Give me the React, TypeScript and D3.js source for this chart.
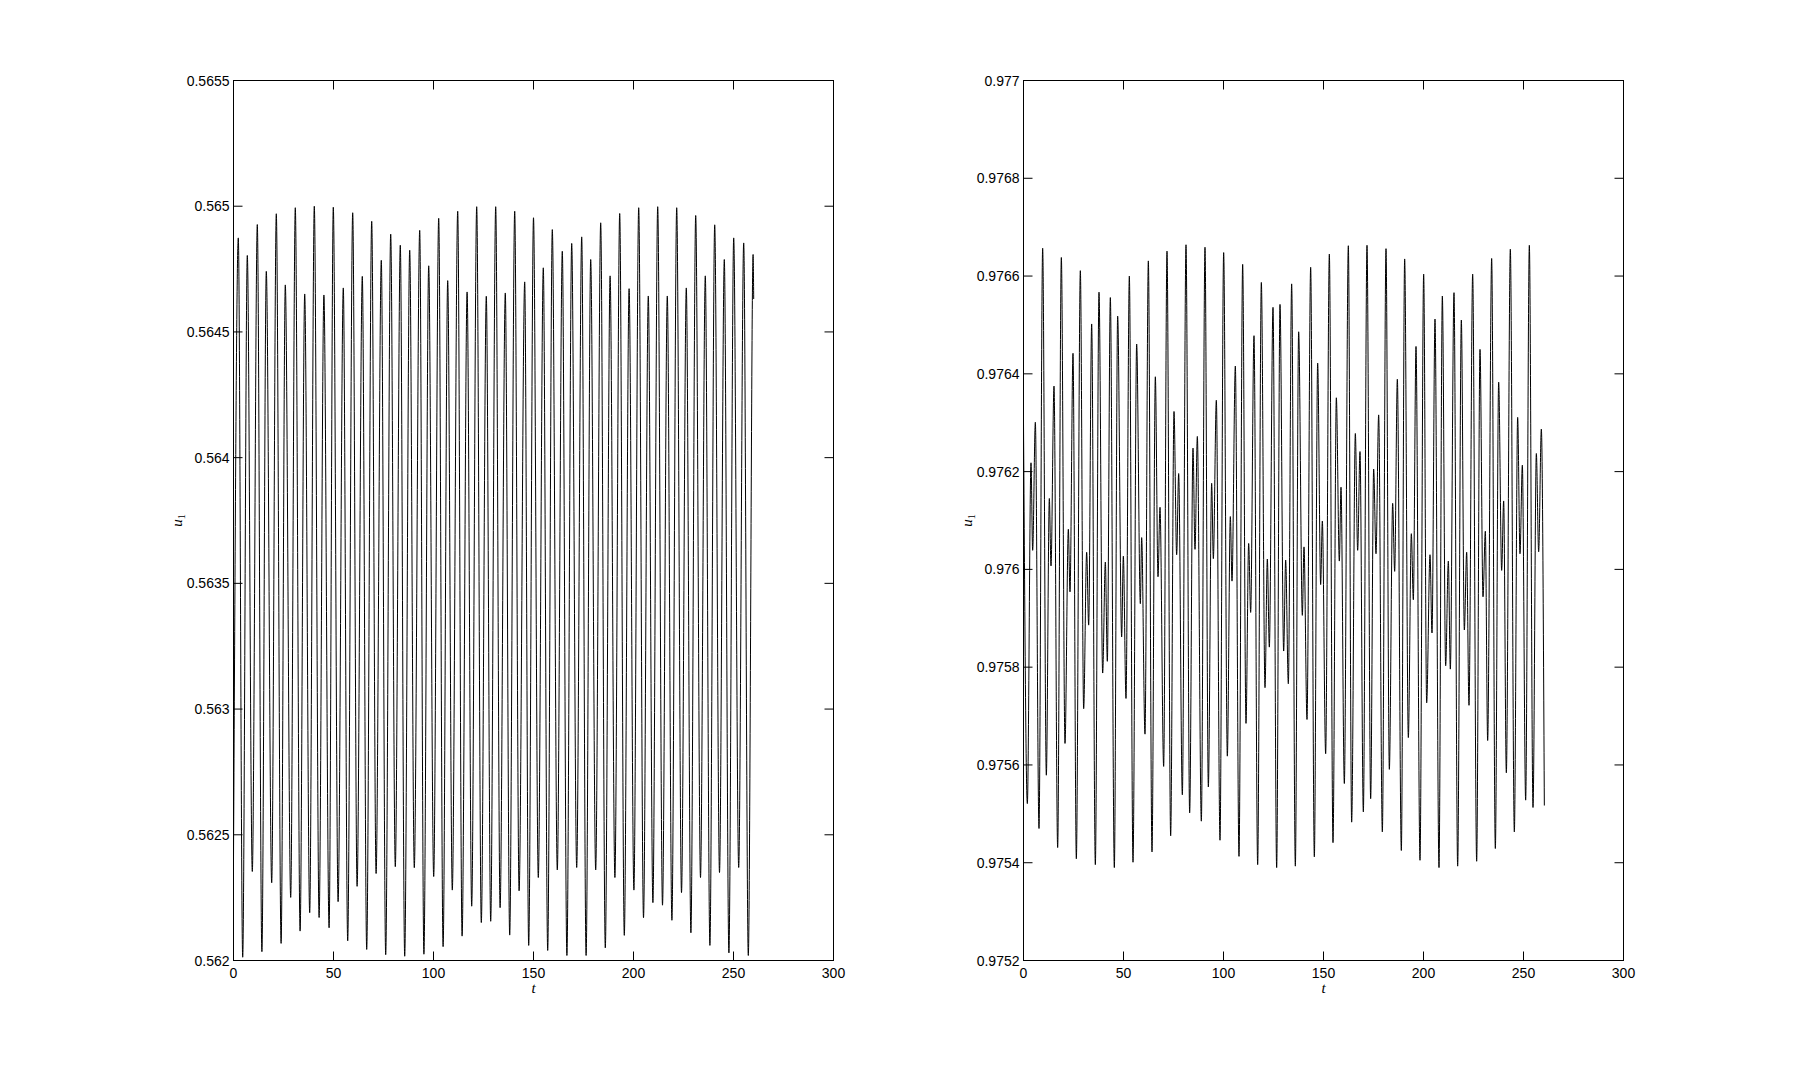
import React from 'react';
import * as d3 from 'd3';

// ---------- data ----------
const tTicks = [0, 50, 100, 150, 200, 250, 300];
const leftYTicks = [0.562, 0.5625, 0.563, 0.5635, 0.564, 0.5645, 0.565, 0.5655];
const leftYTickLabels = ['0.562', '0.5625', '0.563', '0.5635', '0.564', '0.5645', '0.565', '0.5655'];
const rightYTicks = [0.9752, 0.9754, 0.9756, 0.9758, 0.976, 0.9762, 0.9764, 0.9766, 0.9768, 0.977];
const rightYTickLabels = ['0.9752', '0.9754', '0.9756', '0.9758', '0.976', '0.9762', '0.9764', '0.9766', '0.9768', '0.977'];

// left panel: local maxima and minima of u1(t)
const leftStart = [0, 0.5624];
const leftEnd = [260.1, 0.564631];
const leftPeakT = [2.4, 6.9, 11.9, 16.4, 21.4, 25.9, 30.9, 35.6, 40.4, 45.2, 49.9, 54.9, 59.6, 64.4, 69.1, 73.9, 78.6, 83.4, 88.1, 93.1, 97.6, 102.6, 107.1, 112.1, 116.8, 121.6, 126.4, 131.1, 135.9, 140.6, 145.6, 150.0, 154.9, 159.4, 164.4, 169.1, 174.1, 178.6, 183.6, 188.3, 193.1, 197.8, 202.6, 207.4, 212.1, 216.9, 221.6, 226.4, 231.1, 235.9, 240.6, 245.4, 250.1, 255.1, 259.8];
const leftPeakU = [0.564874, 0.564804, 0.564927, 0.564741, 0.56497, 0.564687, 0.564994, 0.564651, 0.565, 0.564647, 0.564996, 0.564675, 0.564974, 0.564721, 0.56494, 0.564785, 0.564889, 0.564845, 0.564825, 0.564904, 0.564763, 0.564952, 0.564704, 0.56498, 0.564659, 0.564998, 0.564642, 0.564998, 0.564655, 0.56498, 0.564699, 0.564954, 0.564755, 0.564907, 0.564821, 0.564852, 0.564878, 0.564788, 0.564934, 0.564723, 0.564971, 0.564672, 0.564994, 0.564643, 0.564998, 0.564643, 0.564994, 0.564675, 0.564963, 0.564723, 0.564926, 0.564788, 0.564874, 0.564854, 0.564808];
const leftTroughT = [4.6, 9.4, 14.2, 19.1, 23.8, 28.6, 33.3, 38.1, 42.8, 47.8, 52.3, 57.1, 61.8, 66.6, 71.3, 76.1, 80.9, 85.6, 90.4, 95.2, 100.1, 104.8, 109.4, 114.3, 119.1, 123.9, 128.6, 133.3, 138.1, 142.8, 147.6, 152.4, 157.1, 161.9, 166.7, 171.6, 176.3, 181.1, 185.9, 190.7, 195.4, 200.2, 205.0, 209.7, 214.5, 219.2, 224.0, 228.7, 233.5, 238.2, 243.0, 247.7, 252.6, 257.4];
const leftTroughU = [0.562013, 0.562354, 0.562035, 0.562309, 0.562068, 0.562251, 0.562117, 0.56219, 0.562171, 0.56213, 0.562234, 0.562078, 0.562295, 0.562044, 0.562346, 0.562023, 0.562373, 0.562017, 0.562369, 0.562025, 0.562334, 0.562055, 0.56228, 0.562097, 0.562216, 0.562151, 0.562156, 0.56221, 0.562101, 0.562277, 0.56206, 0.56233, 0.56204, 0.56236, 0.56202, 0.56237, 0.56202, 0.56236, 0.56205, 0.56233, 0.5621, 0.56228, 0.56217, 0.56223, 0.56222, 0.56216, 0.56227, 0.56211, 0.56233, 0.56206, 0.56235, 0.56203, 0.56237, 0.56202];

// right panel: successive extrema of u1(t)
const rightT = [0, 1.92, 3.75, 4.58, 5.92, 7.75, 9.58, 11.42, 12.92, 13.75, 15.25, 17.08, 18.92, 20.75, 22.42, 23.25, 24.75, 26.42, 28.42, 30.08, 31.58, 32.58, 34.08, 35.92, 37.75, 39.58, 40.92, 41.92, 43.42, 45.42, 47.08, 49.08, 49.92, 51.25, 52.92, 54.75, 56.58, 58.42, 59.08, 60.75, 62.42, 64.25, 65.92, 67.25, 68.25, 70.08, 71.75, 73.58, 75.25, 76.58, 77.58, 79.42, 81.25, 83.08, 84.75, 85.75, 86.92, 88.92, 90.75, 92.42, 94.08, 94.92, 96.42, 98.25, 100.08, 101.92, 103.42, 104.25, 105.92, 107.75, 109.58, 111.25, 112.58, 113.58, 115.25, 117.08, 118.92, 120.75, 121.92, 122.92, 124.75, 126.58, 128.25, 130.08, 131.08, 132.42, 134.08, 135.92, 137.58, 139.42, 140.25, 141.75, 143.58, 145.42, 147.08, 148.58, 149.42, 151.08, 152.92, 154.75, 156.42, 157.92, 158.75, 160.42, 162.42, 164.08, 165.92, 167.08, 168.25, 169.92, 171.75, 173.58, 175.08, 176.25, 177.58, 179.42, 181.25, 182.92, 184.58, 185.58, 186.92, 188.92, 190.58, 192.42, 193.92, 194.92, 196.25, 198.25, 200.08, 201.58, 203.25, 204.25, 205.75, 207.75, 209.42, 211.08, 212.42, 213.42, 215.25, 217.08, 218.92, 220.42, 221.58, 222.75, 224.58, 226.58, 228.25, 229.75, 230.92, 232.08, 234.08, 235.92, 237.58, 239.08, 240.08, 241.42, 243.42, 245.42, 247.08, 248.25, 249.42, 251.08, 252.92, 254.75, 256.42, 257.58, 258.92, 260.42];
const rightU = [0.9763, 0.975521, 0.976218, 0.976039, 0.976301, 0.97547, 0.976657, 0.975579, 0.976145, 0.976007, 0.976375, 0.975431, 0.976638, 0.975644, 0.976082, 0.975954, 0.976442, 0.975408, 0.976611, 0.975715, 0.976035, 0.975886, 0.976502, 0.975396, 0.976567, 0.975788, 0.976015, 0.975812, 0.976556, 0.97539, 0.976518, 0.975862, 0.976027, 0.975736, 0.9766, 0.975401, 0.976461, 0.97593, 0.976065, 0.975663, 0.976631, 0.975422, 0.976394, 0.975985, 0.976127, 0.975597, 0.976651, 0.975455, 0.976323, 0.97603, 0.976196, 0.975539, 0.976664, 0.975502, 0.976248, 0.976041, 0.976272, 0.975485, 0.976659, 0.975555, 0.976176, 0.976022, 0.976346, 0.975446, 0.976648, 0.975618, 0.976108, 0.975976, 0.976416, 0.975413, 0.976624, 0.975685, 0.976053, 0.975912, 0.976478, 0.975396, 0.976587, 0.975758, 0.976021, 0.975841, 0.976536, 0.97539, 0.976542, 0.975833, 0.976019, 0.975766, 0.976584, 0.975393, 0.976486, 0.975906, 0.976046, 0.975693, 0.976618, 0.975412, 0.976422, 0.975969, 0.976099, 0.975623, 0.976645, 0.975441, 0.976351, 0.976017, 0.976168, 0.975562, 0.976662, 0.975483, 0.976278, 0.976039, 0.976241, 0.975504, 0.976663, 0.975531, 0.976205, 0.976032, 0.976316, 0.975463, 0.976656, 0.975591, 0.976135, 0.975996, 0.976389, 0.975425, 0.976635, 0.975656, 0.976073, 0.975938, 0.976456, 0.975405, 0.976604, 0.975727, 0.97603, 0.97587, 0.976512, 0.97539, 0.976559, 0.975803, 0.976017, 0.975796, 0.976566, 0.975393, 0.97651, 0.975876, 0.976035, 0.975722, 0.976604, 0.975403, 0.97645, 0.975944, 0.976078, 0.97565, 0.976636, 0.975429, 0.976383, 0.975998, 0.97614, 0.975584, 0.976655, 0.975463, 0.976311, 0.976032, 0.976213, 0.975528, 0.976663, 0.975513, 0.976237, 0.976036, 0.976287, 0.975517];

// ---------- helpers ----------
type Pt = [number, number];

function leftSeries(): Pt[] {
  const pts: Pt[] = [[leftStart[0], leftStart[1]]];
  for (let i = 0; i < leftPeakT.length; i++) {
    pts.push([leftPeakT[i], leftPeakU[i]]);
    if (i < leftTroughT.length) pts.push([leftTroughT[i], leftTroughU[i]]);
  }
  pts.push([leftEnd[0], leftEnd[1]]);
  return pts;
}

function rightSeries(): Pt[] {
  return rightT.map((t, i) => [t, rightU[i]] as Pt);
}

const FONT = '"Liberation Sans", Arial, Helvetica, sans-serif';
const SERIF = '"Liberation Serif", "DejaVu Serif", serif';

interface PanelProps {
  x0: number; x1: number; y0: number; y1: number;
  yDomain: [number, number];
  yTicks: number[]; yLabels: string[];
  data: Pt[];
}

function Panel({ x0, x1, y0, y1, yDomain, yTicks, yLabels, data }: PanelProps) {
  const x = d3.scaleLinear().domain([0, 300]).range([x0, x1]);
  const y = d3.scaleLinear().domain(yDomain).range([y1, y0]);
  const line = d3.line<Pt>().x(d => x(d[0])).y(d => y(d[1])).curve(d3.curveMonotoneX);
  const tl = 9;
  return (
    <g>
      <path d={line(data) || ''} fill="none" stroke="#000" strokeWidth={1} />
      <rect x={x0} y={y0} width={x1 - x0} height={y1 - y0} fill="none" stroke="#000" strokeWidth={1} />
      {tTicks.map((t, i) => (
        <g key={'xt' + i}>
          <line x1={x(t)} x2={x(t)} y1={y1} y2={y1 - tl} stroke="#000" strokeWidth={1} />
          <line x1={x(t)} x2={x(t)} y1={y0} y2={y0 + tl} stroke="#000" strokeWidth={1} />
          <text x={x(t)} y={y1 + 17} textAnchor="middle" fontFamily={FONT} fontSize={14} fill="#000">{t}</text>
        </g>
      ))}
      {yTicks.map((v, i) => (
        <g key={'yt' + i}>
          <line x1={x0} x2={x0 + tl} y1={y(v)} y2={y(v)} stroke="#000" strokeWidth={1} />
          <line x1={x1} x2={x1 - tl} y1={y(v)} y2={y(v)} stroke="#000" strokeWidth={1} />
          <text x={x0 - 4} y={y(v)} dy="0.36em" textAnchor="end" fontFamily={FONT} fontSize={14} fill="#000">{yLabels[i]}</text>
        </g>
      ))}
      <text x={(x0 + x1) / 2} y={y1 + 32} textAnchor="middle" fontFamily={SERIF} fontStyle="italic" fontSize={15} fill="#000">t</text>
      <text transform={`translate(${x0 - 52},${(y0 + y1) / 2}) rotate(-90)`} textAnchor="middle" fontFamily={SERIF} fontSize={15} fill="#000">
        <tspan fontStyle="italic">u</tspan>
        <tspan fontSize={10} dy={3}>1</tspan>
      </text>
    </g>
  );
}

export default function App() {
  return (
    <svg width={1795} height={1079} style={{ position: 'absolute', left: 0, top: 0, display: 'block', background: '#fff' }}>
      <rect x={0} y={0} width={1795} height={1079} fill="#fff" />
      <Panel x0={233.5} x1={833.5} y0={80.5} y1={960.5} yDomain={[0.562, 0.5655]}
        yTicks={leftYTicks} yLabels={leftYTickLabels} data={leftSeries()} />
      <Panel x0={1023.5} x1={1623.5} y0={80.5} y1={960.5} yDomain={[0.9752, 0.977]}
        yTicks={rightYTicks} yLabels={rightYTickLabels} data={rightSeries()} />
    </svg>
  );
}
